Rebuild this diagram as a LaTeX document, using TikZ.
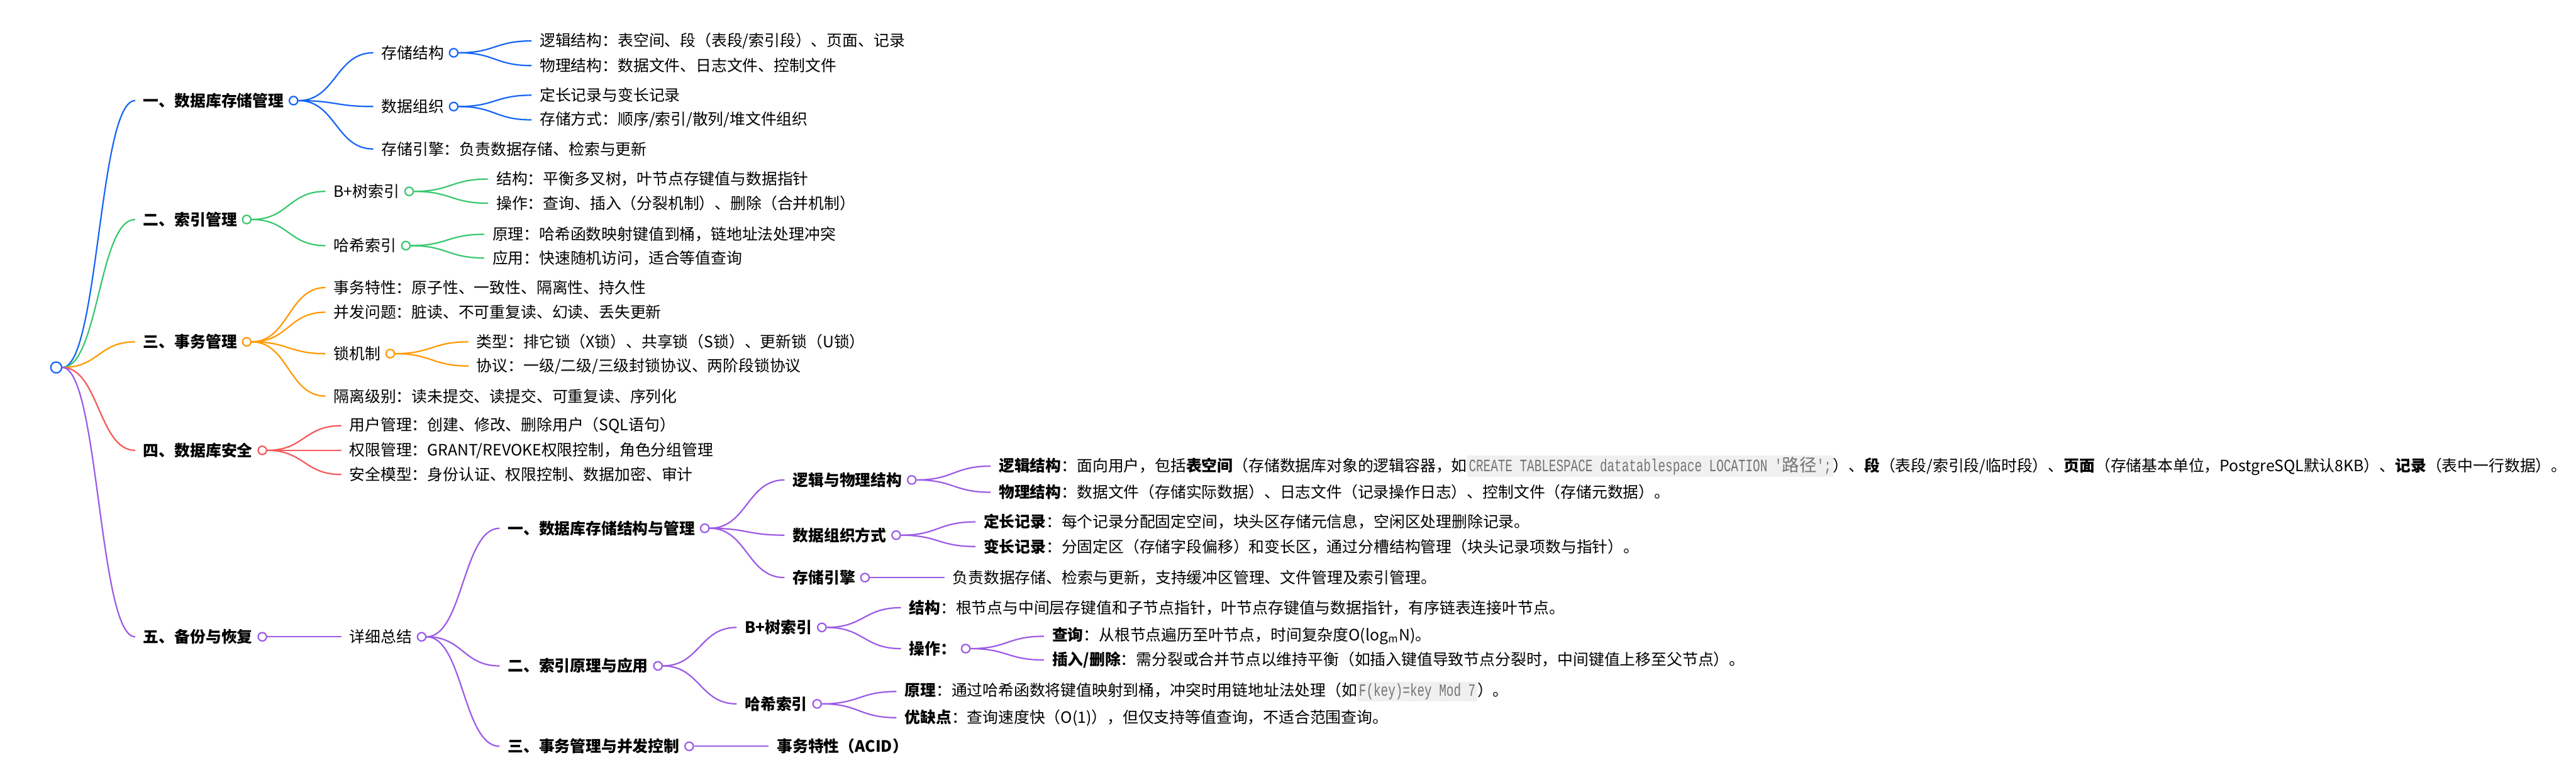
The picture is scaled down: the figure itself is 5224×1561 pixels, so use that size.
\documentclass[tikz,border=0pt]{standalone}
\usepackage{fontspec}
\setmainfont{Noto Sans CJK SC}
\newfontfamily\codefont{Liberation Mono}[FakeStretch=0.7]
\usetikzlibrary{calc}
\definecolor{mmblue}{RGB}{22,101,245}
\definecolor{mmgreen}{RGB}{56,200,110}
\definecolor{mmorange}{RGB}{255,153,0}
\definecolor{mmred}{RGB}{245,88,88}
\definecolor{mmpurple}{RGB}{156,90,230}
\definecolor{codebg}{RGB}{240,240,240}
\definecolor{codefg}{RGB}{115,115,115}
\newcommand\mmsize{\fontsize{9}{11}\selectfont}
\newcommand\code[1]{{\setlength\fboxsep{1pt}\colorbox{codebg}{\fontsize{10}{12}\selectfont\codefont\color{codefg}#1}}}
\tikzset{
  mm/.style={anchor=west,inner xsep=0.16cm,inner ysep=0pt,font=\mmsize},
  head/.style={mm,font=\mmsize\bfseries},
  dot/.style={circle,draw=#1,fill=white,line width=0.8pt,minimum size=0.17cm,inner sep=0pt},
  link/.style={draw=#1,line width=0.8pt,
    to path={let \p1=(\tikztostart),\p2=(\tikztotarget) in
      .. controls ({(\x1+\x2)/2},\y1) and ({(\x1+\x2)/2},\y2) .. (\tikztotarget)}}
}

\begin{document}
\begin{tikzpicture}[x=0.01cm,y=-0.01cm]
  \useasboundingbox[fill=white] (0,0) rectangle (5224,1561);
  \node[dot=mmblue,minimum size=0.22cm] (root) at (114,745) {};

  % main branches
  \node[head] (s1) at (274,204) {一、数据库存储管理};
  \node[head] (s2) at (274,445) {二、索引管理};
  \node[head] (s3) at (274,693) {三、事务管理};
  \node[head] (s4) at (274,913) {四、数据库安全};
  \node[head] (s5) at (274,1291) {五、备份与恢复};
  \foreach \s/\clr in {s1/mmblue,s2/mmgreen,s3/mmorange,s4/mmred,s5/mmpurple}{
    \node[dot=\clr] (c\s) at ([xshift=0.03cm]\s.east) {};
    \draw[link=\clr] (root.east) to (\s.west);
  }

  % storage
  \foreach \nd/\yy/\txt in {a1/107/存储结构,a2/216/数据组织,a3/302/{存储引擎：负责数据存储、检索与更新}}{
    \node[mm] (\nd) at (757,\yy) {\txt};
    \draw[link=mmblue] (cs1.east) to (\nd.west);
  }
  \node[dot=mmblue] (ca1) at ([xshift=0.03cm]a1.east) {};
  \node[dot=mmblue] (ca2) at ([xshift=0.03cm]a2.east) {};
  \node[mm] (a11) at (1078,83) {逻辑结构：表空间、段（表段/索引段）、页面、记录};
  \node[mm] (a12) at (1078,133) {物理结构：数据文件、日志文件、控制文件};
  \node[mm] (a21) at (1078,193) {定长记录与变长记录};
  \node[mm] (a22) at (1078,243) {存储方式：顺序/索引/散列/堆文件组织};
  \foreach \pa/\nd in {ca1/a11,ca1/a12,ca2/a21,ca2/a22}
    \draw[link=mmblue] (\pa.east) to (\nd.west);

  % index
  \node[mm] (b1) at (660,388) {B+树索引};
  \node[mm] (b2) at (660,498) {哈希索引};
  \node[dot=mmgreen] (cb1) at ([xshift=0.03cm]b1.east) {};
  \node[dot=mmgreen] (cb2) at ([xshift=0.03cm]b2.east) {};
  \node[mm] (b11) at (990,363) {结构：平衡多叉树，叶节点存键值与数据指针};
  \node[mm] (b12) at (990,412) {操作：查询、插入（分裂机制）、删除（合并机制）};
  \node[mm] (b21) at (982,475) {原理：哈希函数映射键值到桶，链地址法处理冲突};
  \node[mm] (b22) at (982,523) {应用：快速随机访问，适合等值查询};
  \foreach \pa/\nd in {cs2/b1,cs2/b2,cb1/b11,cb1/b12,cb2/b21,cb2/b22}
    \draw[link=mmgreen] (\pa.east) to (\nd.west);

  % transactions
  \node[mm] (t1) at (660,583) {事务特性：原子性、一致性、隔离性、持久性};
  \node[mm] (t2) at (660,633) {并发问题：脏读、不可重复读、幻读、丢失更新};
  \node[mm] (t3) at (660,717) {锁机制};
  \node[mm] (t4) at (660,803) {隔离级别：读未提交、读提交、可重复读、序列化};
  \node[dot=mmorange] (ct3) at ([xshift=0.03cm]t3.east) {};
  \node[mm] (t31) at (950,693) {类型：排它锁（X锁）、共享锁（S锁）、更新锁（U锁）};
  \node[mm] (t32) at (950,742) {协议：一级/二级/三级封锁协议、两阶段锁协议};
  \foreach \pa/\nd in {cs3/t1,cs3/t2,cs3/t3,cs3/t4,ct3/t31,ct3/t32}
    \draw[link=mmorange] (\pa.east) to (\nd.west);

  % security
  \node[mm] (u1) at (692,863) {用户管理：创建、修改、删除用户（SQL语句）};
  \node[mm] (u2) at (692,913) {权限管理：GRANT/REVOKE权限控制，角色分组管理};
  \node[mm] (u3) at (692,962) {安全模型：身份认证、权限控制、数据加密、审计};
  \foreach \nd in {u1,u2,u3}
    \draw[link=mmred] (cs4.east) to (\nd.west);

  % backup / summary
  \node[mm] (e) at (692,1291) {详细总结};
  \node[dot=mmpurple] (ce) at ([xshift=0.03cm]e.east) {};
  \node[head] (e1) at (1013,1071) {一、数据库存储结构与管理};
  \node[head] (e2) at (1013,1350) {二、索引原理与应用};
  \node[head] (e3) at (1013,1513) {三、事务管理与并发控制};
  \foreach \nd in {e1,e2,e3}
    \node[dot=mmpurple] (c\nd) at ([xshift=0.03cm]\nd.east) {};

  \node[head] (e11) at (1591,973) {逻辑与物理结构};
  \node[head] (e12) at (1591,1085) {数据组织方式};
  \node[head] (e13) at (1591,1171) {存储引擎};
  \foreach \nd in {e11,e12,e13}
    \node[dot=mmpurple] (c\nd) at ([xshift=0.03cm]\nd.east) {};
  \node[mm] (e111) at (2009,945) {\textbf{逻辑结构}：面向用户，包括\textbf{表空间}（存储数据库对象的逻辑容器，如\code{CREATE TABLESPACE datatablespace LOCATION '{\rmfamily 路径}';}）、\textbf{段}（表段/索引段/临时段）、\textbf{页面}（存储基本单位，PostgreSQL默认8KB）、\textbf{记录}（表中一行数据）。};
  \node[mm] (e112) at (2009,998) {\textbf{物理结构}：数据文件（存储实际数据）、日志文件（记录操作日志）、控制文件（存储元数据）。};
  \node[mm] (e121) at (1978,1058) {\textbf{定长记录}：每个记录分配固定空间，块头区存储元信息，空闲区处理删除记录。};
  \node[mm] (e122) at (1978,1108) {\textbf{变长记录}：分固定区（存储字段偏移）和变长区，通过分槽结构管理（块头记录项数与指针）。};
  \node[mm] (e131) at (1915,1171) {负责数据存储、检索与更新，支持缓冲区管理、文件管理及索引管理。};

  \node[head] (e21) at (1494,1272) {B+树索引};
  \node[head] (e22) at (1494,1427) {哈希索引};
  \node[dot=mmpurple] (ce21) at ([xshift=0.03cm]e21.east) {};
  \node[dot=mmpurple] (ce22) at ([xshift=0.03cm]e22.east) {};
  \node[mm] (e211) at (1827,1232) {\textbf{结构}：根节点与中间层存键值和子节点指针，叶节点存键值与数据指针，有序链表连接叶节点。};
  \node[head] (e212) at (1827,1315) {操作：};
  \node[dot=mmpurple] (ce212) at ([xshift=0.03cm]e212.east) {};
  \node[mm] (e2121) at (2117,1290) {\textbf{查询}：从根节点遍历至叶节点，时间复杂度O(log\textsubscript{m}N)。};
  \node[mm] (e2122) at (2117,1338) {\textbf{插入/删除}：需分裂或合并节点以维持平衡（如插入键值导致节点分裂时，中间键值上移至父节点）。};
  \node[mm] (e221) at (1818,1402) {\textbf{原理}：通过哈希函数将键值映射到桶，冲突时用链地址法处理（如\code{F(key)=key Mod 7}）。};
  \node[mm] (e222) at (1818,1455) {\textbf{优缺点}：查询速度快（O(1)），但仅支持等值查询，不适合范围查询。};
  \node[head] (e31) at (1559,1513) {事务特性（ACID）};

  \foreach \pa/\nd in {cs5/e,ce/e1,ce/e2,ce/e3,ce1/e11,ce1/e12,ce1/e13,ce11/e111,ce11/e112,
      ce12/e121,ce12/e122,ce13/e131,ce2/e21,ce2/e22,ce21/e211,ce21/e212,ce212/e2121,
      ce212/e2122,ce22/e221,ce22/e222,ce3/e31}
    \draw[link=mmpurple] (\pa.east) to (\nd.west);
\end{tikzpicture}
\end{document}
